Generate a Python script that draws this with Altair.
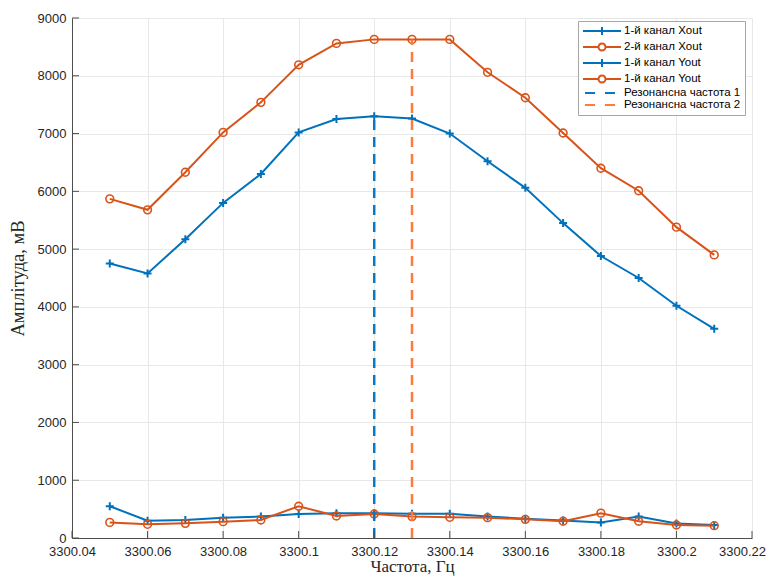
import altair as alt
import pandas as pd

# ---- data ----
freq = [3300.05, 3300.06, 3300.07, 3300.08, 3300.09, 3300.10, 3300.11, 3300.12, 3300.13,
        3300.14, 3300.15, 3300.16, 3300.17, 3300.18, 3300.19, 3300.20, 3300.21]
ch1_xout = [4750, 4580, 5170, 5800, 6300, 7020, 7250, 7300, 7260,
            7000, 6520, 6060, 5450, 4880, 4500, 4020, 3620]
ch2_xout = [5870, 5680, 6330, 7020, 7540, 8190, 8560, 8630, 8630,
            8630, 8060, 7620, 7010, 6400, 6010, 5380, 4900]
ch1_yout = [550, 300, 310, 350, 370, 415, 427, 430, 420,
            420, 370, 335, 305, 270, 370, 250, 225]
ch2_yout = [270, 237, 254, 283, 312, 550, 380, 415, 370,
            358, 352, 323, 290, 430, 290, 225, 213]
res_freq = [3300.12, 3300.13]
res_top = [7300, 8630]

legend_labels = ["1-й канал Xout", "2-й канал Xout", "1-й канал Yout", "1-й канал Yout",
                 "Резонансна частота 1", "Резонансна частота 2"]
x_ticks = [3300.04, 3300.06, 3300.08, 3300.10, 3300.12, 3300.14, 3300.16, 3300.18, 3300.20, 3300.22]
y_ticks = [0, 1000, 2000, 3000, 4000, 5000, 6000, 7000, 8000, 9000]

BLUE = "#0072BD"
ORANGE = "#D95319"
BLUE_D = "#0a78c8"
ORANGE_D = "#FF7A3D"
AXC = "#4d4d4d"

PLUS = "M-1,0L1,0M0,-1L0,1"

W, H = 680, 520
xscale = alt.Scale(domain=[3300.04, 3300.22], nice=False, zero=False)
yscale = alt.Scale(domain=[0, 9000], nice=False)
xaxis = alt.Axis(values=x_ticks, format=".2~f", title="Частота, Гц", ticks=False,
                 labelPadding=7, titlePadding=0, labelFlush=False, titleFontSize=17,
                 labelOffset=alt.condition("datum.value > 3300.215", alt.value(-10), alt.value(0)))
yaxis = alt.Axis(values=y_ticks, format="d", title="Амплітуда, мВ", ticks=False,
                 labelPadding=6, titlePadding=10, labelFlush=False, titleFontSize=18.5)

layers = []
for vals, col, kind in [(ch1_xout, BLUE, "plus"), (ch2_xout, ORANGE, "circle"),
                        (ch1_yout, BLUE, "plus"), (ch2_yout, ORANGE, "circle")]:
    df = pd.DataFrame({"f": freq, "v": vals})
    base = alt.Chart(df).encode(
        x=alt.X("f:Q", scale=xscale, axis=xaxis),
        y=alt.Y("v:Q", scale=yscale, axis=yaxis),
    )
    layers.append(base.mark_line(color=col, strokeWidth=2))
    if kind == "plus":
        layers.append(base.mark_point(shape=PLUS, filled=False, color=col, size=64,
                                      strokeWidth=2, opacity=1))
    else:
        layers.append(base.mark_point(shape="circle", filled=False, color=col, size=60,
                                      strokeWidth=1.6, opacity=1))

for fr, top, col in zip(res_freq, res_top, [BLUE_D, ORANGE_D]):
    rdf = pd.DataFrame({"f": [fr], "y0": [0], "y1": [top]})
    layers.append(alt.Chart(rdf).mark_rule(color=col, strokeWidth=2.5, strokeDash=[10, 7]).encode(
        x=alt.X("f:Q", scale=xscale, axis=xaxis),
        y=alt.Y("y0:Q", scale=yscale, axis=yaxis),
        y2="y1:Q",
    ))

# inward tick marks (MATLAB style)
xt = pd.DataFrame({"t": x_ticks})
layers.append(alt.Chart(xt).mark_rule(color=AXC, strokeWidth=1).encode(
    x=alt.X("t:Q", scale=xscale, axis=xaxis),
    y=alt.value(H), y2=alt.value(H - 7),
))
yt = pd.DataFrame({"t": y_ticks})
layers.append(alt.Chart(yt).mark_rule(color=AXC, strokeWidth=1).encode(
    y=alt.Y("t:Q", scale=yscale, axis=yaxis),
    x=alt.value(0), x2=alt.value(7),
))

# legend-only layer (no marks drawn)
keys = [str(i) for i in range(len(legend_labels))]
line_plus = "M-1,0L6.6,0M2.8,-0.8L2.8,0.8"
line_circ = "M-1,0L2.1,0M3.5,0L6.6,0M3.5,0A0.7,0.7 0 1,1 2.1,0A0.7,0.7 0 1,1 3.5,0"
dashed = "M-0.6,0L1.4,0M3.4,0L5.4,0"
paths = [line_plus, line_circ, line_plus, line_circ, dashed, dashed]
leg_colors = [BLUE, ORANGE, BLUE, ORANGE, BLUE_D, ORANGE_D]
label_expr = "[" + ",".join("'" + s + "'" for s in legend_labels) + "][toNumber(datum.label)]"

leg = alt.Legend(title=None, orient="none", legendX=506, legendY=3, fillColor="white",
                 strokeColor="#a6a6a6", padding=4, symbolSize=100, symbolStrokeWidth=2,
                 labelFont="Liberation Sans", labelFontSize=11.5, labelColor="#000000",
                 labelOffset=30, rowPadding=0, labelExpr=label_expr, symbolOpacity=1)
ldf = pd.DataFrame({"k": keys})
layers.append(alt.Chart(ldf).transform_filter("false").mark_point(filled=False).encode(
    color=alt.Color("k:N", scale=alt.Scale(domain=keys, range=leg_colors), legend=leg),
    shape=alt.Shape("k:N", scale=alt.Scale(domain=keys, range=paths), legend=leg),
))

chart = alt.layer(*layers).properties(
    width=W, height=H,
    autosize=alt.AutoSizeParams(type="none"),
    padding={"left": 64, "top": 10, "right": 14, "bottom": 38},
).configure_view(stroke=None).configure_axis(
    labelFont="Liberation Sans", labelFontSize=13, labelColor="#262626",
    titleFont="Liberation Serif", titleFontWeight="normal", titleColor="#262626",
    gridColor="#e8e8e8", gridWidth=1, domainColor=AXC, domainWidth=1,
)

chart.save("out.html", embed_options={"renderer": "svg", "actions": False})
